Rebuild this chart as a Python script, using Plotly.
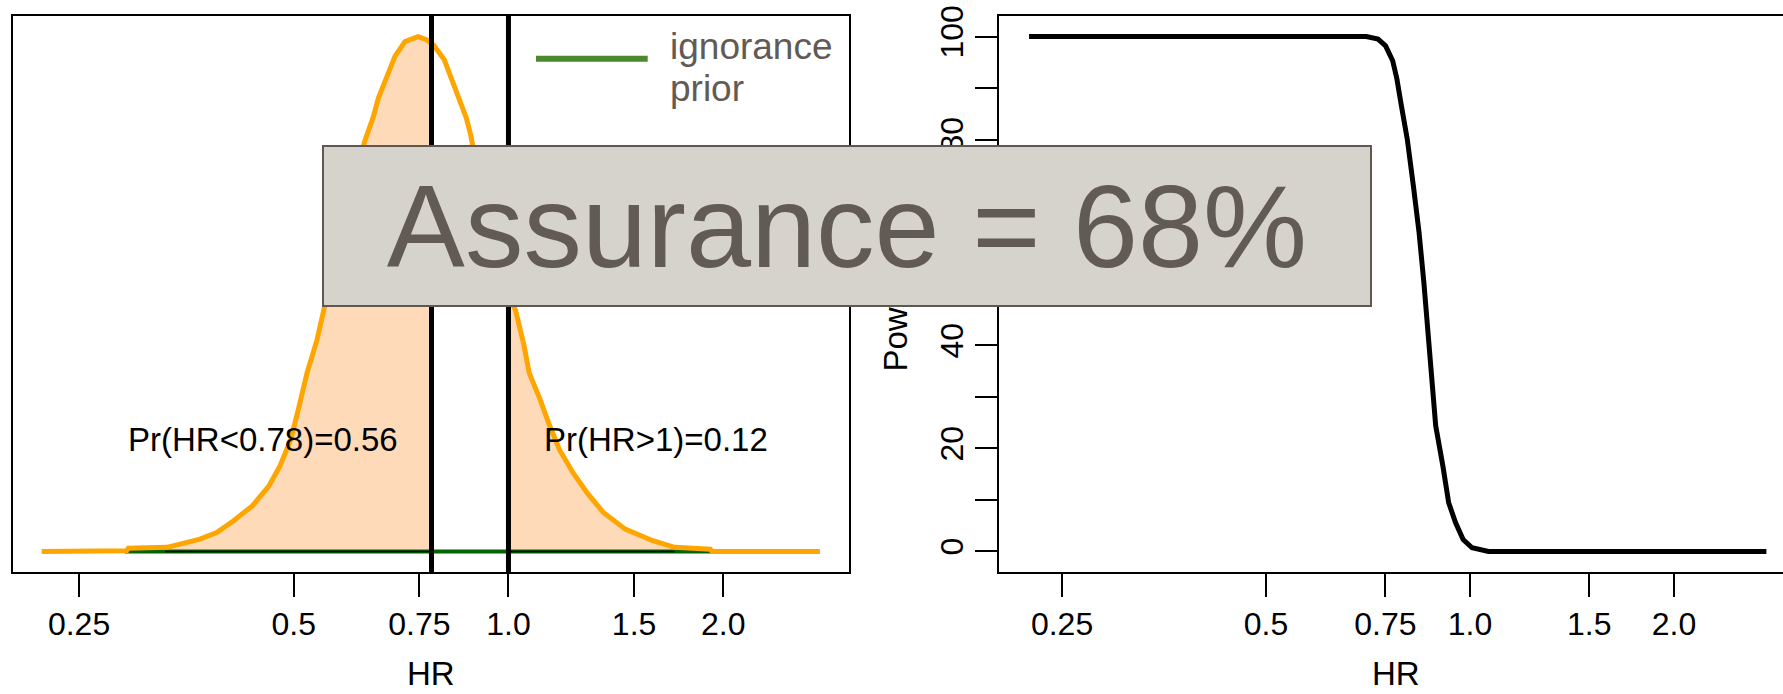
import numpy as np
import plotly.graph_objects as go

# ---- posterior density of the hazard ratio (left panel) ----
hr_grid = [0.2216, 0.2916, 0.2931, 0.3318, 0.3463, 0.3694, 0.3899, 0.4113, 0.4374,
           0.4613, 0.4780, 0.4951, 0.5086, 0.5218, 0.5389, 0.5506, 0.5675, 0.5861,
           0.6034, 0.6289, 0.6457, 0.6573, 0.6749, 0.6932, 0.7160, 0.7467, 0.7662,
           0.7847, 0.8129, 0.8349, 0.8573, 0.8727, 0.8851, 0.8912, 0.9121, 0.9420,
           0.9792, 1.0232, 1.0513, 1.0694, 1.1081, 1.1378, 1.1789, 1.2322, 1.2884,
           1.3584, 1.4579, 1.5933, 1.7100, 1.9187, 1.9290, 2.7330]
density = [0.000, 0.002, 0.010, 0.013, 0.023, 0.039, 0.060, 0.097, 0.145,
           0.208, 0.271, 0.356, 0.461, 0.568, 0.673, 0.768, 0.895, 1.038,
           1.165, 1.307, 1.381, 1.445, 1.508, 1.577, 1.624, 1.640, 1.631,
           1.614, 1.566, 1.497, 1.434, 1.381, 1.328, 1.291, 1.149, 0.990,
           0.863, 0.768, 0.657, 0.568, 0.483, 0.410, 0.324, 0.250, 0.187,
           0.124, 0.071, 0.034, 0.013, 0.007, 0.000, 0.000]

hr_target = 0.78        # target hazard ratio
hr_null = 1.0           # no effect
prior_span = [0.29, 1.93]           # support of the flat ignorance prior
lower_tail_span = [0.33, 0.78]      # shaded region Pr(HR<0.78)
upper_tail_span = [1.0, 1.71]       # shaded region Pr(HR>1)
prob_below = 0.56
prob_above = 0.12
assurance_pct = 68

# ---- power curve (right panel) ----
hr_power = [0.2235, 0.7030, 0.7316, 0.7507, 0.7690, 0.7800, 0.7920, 0.8080,
            0.8250, 0.8410, 0.8550, 0.8670, 0.8760, 0.8900, 0.9120, 0.9300,
            0.9520, 0.9770, 1.0070, 1.0480, 1.0650, 2.7380]
power = [100.0, 100.0, 99.5, 98.2, 95.3, 91.8, 86.6, 80.1,
         71.0, 62.0, 52.2, 42.5, 34.7, 24.4, 16.6, 9.5,
         5.6, 2.3, 0.7, 0.25, 0.0, 0.0]

x_tickvals = [0.25, 0.5, 0.75, 1.0, 1.5, 2.0]
x_ticktext = ["0.25", "0.5", "0.75", "1.0", "1.5", "2.0"]
y_tickvals = list(range(0, 101, 10))
y_ticktext = [str(v) if v % 20 == 0 else "" for v in y_tickvals]

W, H = 1783, 694
FONT = "Liberation Sans, Arial, sans-serif"
TXT = "#625a54"
ORANGE = "#ffa500"
PEACH = "#ffdab9"


def px(xp):
    return xp / W


def py(yp):
    return 1 - yp / H


hr = np.array(hr_grid)
dens = np.array(density)
peak = dens.max()


def tail(lo, hi):
    inside = (hr > lo) & (hr < hi)
    xs = np.concatenate([[lo], hr[inside], [hi]])
    ys = np.concatenate([[np.interp(np.log(lo), np.log(hr), dens)], dens[inside],
                         [np.interp(np.log(hi), np.log(hr), dens)]])
    return xs, ys


fig = go.Figure()

for lo, hi in (lower_tail_span, upper_tail_span):
    xs, ys = tail(lo, hi)
    fig.add_trace(go.Scatter(x=xs, y=ys, mode="lines", fill="tozeroy",
                             fillcolor=PEACH, line=dict(width=0, color=PEACH),
                             xaxis="x", yaxis="y", hoverinfo="skip"))

fig.add_trace(go.Scatter(x=prior_span, y=[0, 0], mode="lines",
                         line=dict(color="#006400", width=4), xaxis="x", yaxis="y"))
for lo, hi in (lower_tail_span, upper_tail_span):
    fig.add_trace(go.Scatter(x=[lo, hi], y=[0, 0], mode="lines",
                             line=dict(color="black", width=1.5), xaxis="x", yaxis="y"))

fig.add_trace(go.Scatter(x=hr_grid, y=density, mode="lines",
                         line=dict(color=ORANGE, width=5), xaxis="x", yaxis="y"))

for v in (hr_target, hr_null):
    fig.add_trace(go.Scatter(x=[v, v], y=[-0.04 * peak * 2, peak * 1.1], mode="lines",
                             line=dict(color="black", width=5), xaxis="x", yaxis="y"))

fig.add_trace(go.Scatter(x=hr_power, y=power, mode="lines",
                         line=dict(color="black", width=5, shape="linear"),
                         xaxis="x2", yaxis="y2"))

y_dom = [py(572), py(16)]
axis_common = dict(showgrid=False, zeroline=False, showline=True, linecolor="black",
                   linewidth=2, ticks="outside", tickcolor="black", tickwidth=2,
                   automargin=False,
                   tickfont=dict(family=FONT, size=32, color="black"))

fig.update_layout(
    width=W, height=H,
    margin=dict(l=0, r=0, t=0, b=0, pad=0, autoexpand=False),
    paper_bgcolor="white", plot_bgcolor="white", showlegend=False,
    xaxis=dict(axis_common, type="log", domain=[px(13), px(849.3)],
               range=[np.log10(0.202), np.log10(3.005)], mirror=True,
               tickvals=x_tickvals, ticktext=x_ticktext, ticklen=23),
    yaxis=dict(axis_common, domain=y_dom, range=[-0.04 * peak, 1.04 * peak],
               mirror=True, ticks="", showticklabels=False),
    xaxis2=dict(axis_common, type="log", domain=[px(999.3), 1.0], anchor="y2",
                range=[np.log10(0.202), np.log10(2.897)], mirror=True,
                tickvals=x_tickvals, ticktext=x_ticktext, ticklen=23),
    yaxis2=dict(axis_common, domain=y_dom, anchor="x2", range=[-4, 104],
                tickvals=y_tickvals, ticktext=y_ticktext, tickangle=-90, ticklen=22),
)

ann = []
ann.append(dict(text=f"Pr(HR<{hr_target:g})={prob_below:.2f}", x=px(262.5), y=py(439)))
ann.append(dict(text=f"Pr(HR>{hr_null:g})={prob_above:.2f}", x=px(655.5), y=py(439)))
ann.append(dict(text="HR", x=px(431), y=py(673)))
ann.append(dict(text="HR", x=px(1396), y=py(673)))
ann.append(dict(text="Power (%)", x=px(895), y=py(294.5), textangle=-90))
for a in ann:
    a.update(xref="paper", yref="paper", showarrow=False, xanchor="center",
             yanchor="middle", font=dict(family=FONT, size=33, color="black"))

for word, yc in (("ignorance", 46), ("prior", 88)):
    ann.append(dict(text=word, x=px(667.7), y=py(yc), xref="paper", yref="paper",
                    showarrow=False, xanchor="left", yanchor="middle",
                    font=dict(family=FONT, size=37, color=TXT)))

ann.append(dict(text=f"Assurance = {assurance_pct}%", x=px(847.4), y=py(225.9),
                xref="paper", yref="paper", showarrow=False, xanchor="center",
                yanchor="middle", width=1046, height=158, borderpad=0,
                bgcolor="#d6d2cc", bordercolor="#5f5751", borderwidth=2,
                font=dict(family=FONT, size=117, color=TXT)))
fig.update_layout(annotations=ann)

# legend key for the ignorance prior
fig.add_shape(type="line", xref="paper", yref="paper", x0=px(536), x1=px(647.7),
              y0=py(58.7), y1=py(58.7), line=dict(color="#4b8a2a", width=6))

fig.write_html("out.html")
